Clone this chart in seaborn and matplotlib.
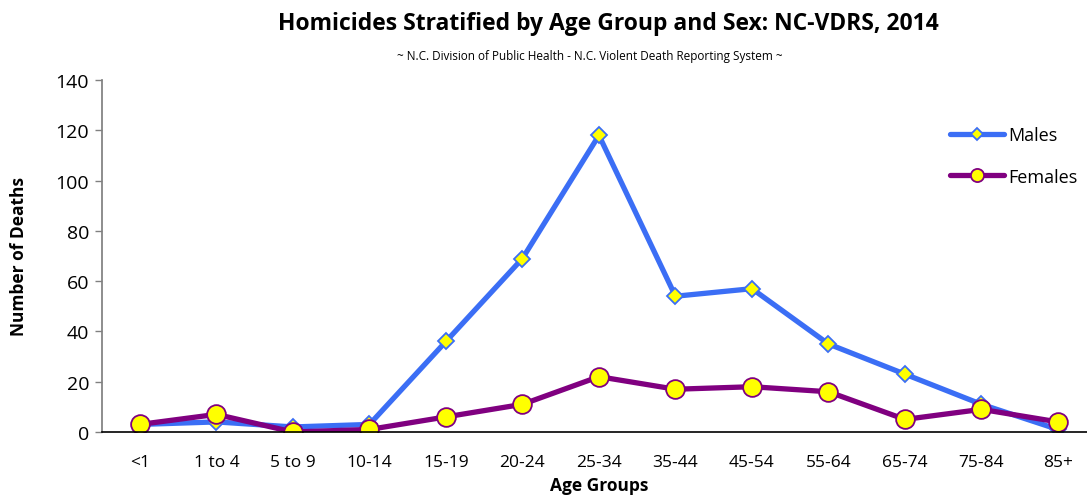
import pandas as pd
import matplotlib
matplotlib.use("Agg")
import matplotlib.pyplot as plt
import seaborn as sns

# 数据
age_groups = ["<1", "1 to 4", "5 to 9", "10-14", "15-19", "20-24", "25-34",
              "35-44", "45-54", "55-64", "65-74", "75-84", "85+"]
males = [3, 4, 2, 3, 36, 69, 118, 54, 57, 35, 23, 11, 1]
females = [3, 7, 0, 1, 6, 11, 22, 17, 18, 16, 5, 9, 4]

sns.set_theme(style="white")
plt.rcParams['font.family'] = ['Open Sans', 'DejaVu Sans']
plt.rcParams['text.color'] = 'black'
plt.rcParams['axes.labelcolor'] = 'black'
plt.rcParams['xtick.color'] = 'black'
plt.rcParams['ytick.color'] = 'black'

df = pd.DataFrame({
    "age": age_groups * 2,
    "deaths": males + females,
    "sex": ["Males"] * len(males) + ["Females"] * len(females),
})

fig = plt.figure(figsize=(10.87, 5.02), dpi=100)
ax = fig.add_axes([0.0935, 0.1375, 0.915, 0.7011])

sns.lineplot(data=df[df["sex"] == "Males"], x="age", y="deaths", ax=ax,
             color="#3B6EF5", linewidth=3.8, marker="D", markersize=8.5,
             markerfacecolor="#FFFF00", markeredgecolor="#3B6EF5",
             markeredgewidth=1.3, label="Males", sort=False)
sns.lineplot(data=df[df["sex"] == "Females"], x="age", y="deaths", ax=ax,
             color="#800080", linewidth=3.8, marker="o", markersize=13.5,
             markerfacecolor="#FFFF00", markeredgecolor="#800080",
             markeredgewidth=1.3, label="Females", sort=False)

ax.set_xlim(-0.5, len(age_groups) - 0.5)
ax.set_ylim(0, 140)
ax.set_yticks(range(0, 141, 20))
ax.set_xticks(range(len(age_groups)))
ax.set_xticklabels(age_groups)
ax.set_xticks([i - 0.5 for i in range(len(age_groups) + 1)], minor=True)
ax.tick_params(axis="x", which="major", length=0, pad=16, labelsize=12.5)
ax.tick_params(axis="x", which="minor", length=6, color="#808080", width=1, direction="out")
ax.tick_params(axis="y", length=5, width=1, color="#808080", labelsize=14, pad=4, left=True)

for s in ["top", "right"]:
    ax.spines[s].set_visible(False)
ax.spines["left"].set_color("#808080")
ax.spines["bottom"].set_color("black")
ax.spines["bottom"].set_linewidth(1.2)

ax.set_xlabel("Age Groups", fontsize=12.5, fontweight="bold", labelpad=4)
ax.set_ylabel("Number of Deaths", fontsize=12.5, fontweight="bold", labelpad=20)

fig.text(0.56, 0.953, "Homicides Stratified by Age Group and Sex: NC-VDRS, 2014",
         ha="center", va="center", fontsize=16.5, fontweight="bold")
fig.text(0.543, 0.888, "~ N.C. Division of Public Health - N.C. Violent Death Reporting System ~",
         ha="center", va="center", fontsize=8.5)

leg = ax.legend(loc="upper right", bbox_to_anchor=(0.997, 0.915), frameon=False,
                fontsize=13, handlelength=3.0, labelspacing=1.3, handletextpad=0.2,
                markerscale=0.7)

fig.savefig("out.png", dpi=100)
